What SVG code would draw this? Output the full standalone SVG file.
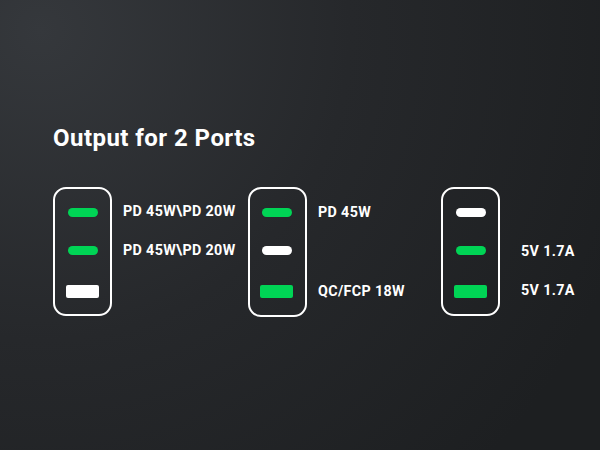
<svg xmlns="http://www.w3.org/2000/svg" width="600" height="450" viewBox="0 0 600 450">
<defs>
<radialGradient id="bg" cx="40" cy="30" r="620" gradientUnits="userSpaceOnUse">
<stop offset="0" stop-color="#35383c"/>
<stop offset="0.5" stop-color="#26282b"/>
<stop offset="1" stop-color="#1d1f21"/>
</radialGradient>
<style>
.box{fill:none;stroke:#ffffff;stroke-width:2}
.g{fill:#00d455}
.w{fill:#ffffff}
.t{font-family:Roboto,"Liberation Sans",sans-serif;font-weight:bold;fill:#ffffff;font-size:14.3px;letter-spacing:0.35px}
.title{font-family:Roboto,"Liberation Sans",sans-serif;font-weight:bold;fill:#ffffff;font-size:24px;letter-spacing:0.45px}
</style>
</defs>
<rect width="600" height="450" fill="url(#bg)"/>
<text class="title" x="53" y="146">Output for 2 Ports</text>
<g id="port1">
<rect class="box" x="54" y="188" width="57" height="127" rx="12"/>
<rect class="g" x="68" y="208" width="30" height="9" rx="4.5"/>
<rect class="g" x="68" y="246" width="30" height="9" rx="4.5"/>
<rect class="w" x="66" y="285" width="33" height="13" rx="2"/>
<text class="t" x="123" y="216">PD 45W\PD 20W</text>
<text class="t" x="123" y="255">PD 45W\PD 20W</text>
</g>
<g id="port2">
<rect class="box" x="249" y="188" width="57" height="128" rx="12"/>
<rect class="g" x="262" y="208" width="30" height="9" rx="4.5"/>
<rect class="w" x="262" y="246" width="30" height="9" rx="4.5"/>
<rect class="g" x="260" y="285" width="33" height="13" rx="2"/>
<text class="t" x="318" y="217">PD 45W</text>
<text class="t" x="318" y="296">QC/FCP 18W</text>
</g>
<g id="port3">
<rect class="box" x="442" y="188" width="57" height="127" rx="12"/>
<rect class="w" x="456" y="208" width="30" height="9" rx="4.5"/>
<rect class="g" x="456" y="246" width="30" height="9" rx="4.5"/>
<rect class="g" x="454" y="285" width="33" height="13" rx="2"/>
<text class="t" x="521" y="256">5V 1.7A</text>
<text class="t" x="521" y="295">5V 1.7A</text>
</g>
<g id="connectors"/>
</svg>
